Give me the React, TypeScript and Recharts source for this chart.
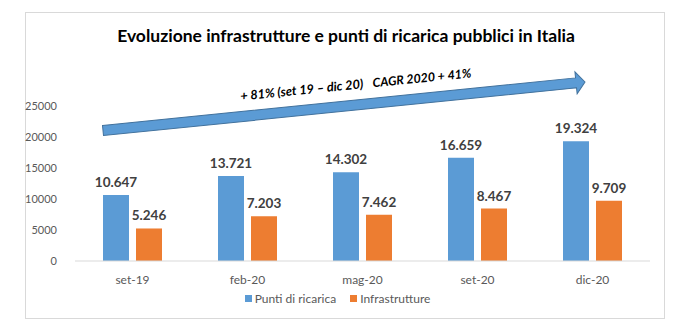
import React from "react";
import { BarChart, Bar, XAxis, YAxis, Legend, LabelList } from "recharts";

const months = ["set-19", "feb-20", "mag-20", "set-20", "dic-20"];
const puntiDiRicarica = [10647, 13721, 14302, 16659, 19324];
const infrastrutture = [5246, 7203, 7462, 8467, 9709];
const yTicks = [0, 5000, 10000, 15000, 20000, 25000];

const data = months.map((m, i) => ({
  month: m,
  punti: puntiDiRicarica[i],
  infra: infrastrutture[i],
}));

const FONT = "Lato, 'Open Sans', sans-serif";
const BLUE = "#5B9BD5";
const ORANGE = "#ED7D31";

// italian thousands separator, also for 4-digit numbers
const fmt = (v: any) => String(v).replace(/\B(?=(\d{3})+(?!\d))/g, ".");

const legendItems = [
  { name: "Punti di ricarica", color: BLUE },
  { name: "Infrastrutture", color: ORANGE },
];

function LegendContent() {
  return (
    <div style={{ display: "flex", justifyContent: "center", gap: 14, fontSize: 12, fontFamily: FONT, color: "#595959" }}>
      {legendItems.map((it) => (
        <span key={it.name} style={{ display: "inline-flex", alignItems: "center" }}>
          <span style={{ width: 7, height: 7, background: it.color, marginRight: 3, display: "inline-block" }} />
          {it.name}
        </span>
      ))}
    </div>
  );
}

function GrowthArrow() {
  const x0 = 103, y0 = 130.5, x1 = 585, y1 = 82;
  const len = Math.hypot(x1 - x0, y1 - y0);
  const ang = (Math.atan2(y1 - y0, x1 - x0) * 180) / Math.PI;
  const pts = [
    [0, -5], [len - 9, -5], [len - 9, -11], [len, 0],
    [len - 9, 11], [len - 9, 5], [0, 5],
  ].map((p) => p.join(",")).join(" ");
  return (
    <svg width={687} height={335} style={{ position: "absolute", left: 0, top: 0, pointerEvents: "none" }}>
      <g transform={`translate(${x0},${y0}) rotate(${ang})`}>
        <polygon points={pts} fill={BLUE} stroke="#41719C" strokeWidth={1} />
        <text x={140} y={-16} fontFamily={FONT} fontSize={12.7} fontStyle="italic" fontWeight="bold" fill="#000">
          + 81% (set 19 – dic 20)
        </text>
        <text x={273} y={-16} fontFamily={FONT} fontSize={12.4} fontStyle="italic" fontWeight="bold" fill="#000">
          CAGR 2020 + 41%
        </text>
      </g>
    </svg>
  );
}

export default function App() {
  return (
    <div style={{ position: "absolute", left: 0, top: 0, width: 687, height: 335, background: "#fff", fontFamily: FONT }}>
      <div style={{ position: "absolute", left: 25, top: 12, width: 640, height: 307, border: "1px solid #d9d9d9", boxSizing: "border-box" }} />
      <div style={{ position: "absolute", left: 0, width: 692, top: 25, textAlign: "center", fontSize: 17.5, fontWeight: "bold", color: "#000" }}>
        Evoluzione infrastrutture e punti di ricarica pubblici in Italia
      </div>
      <div style={{ position: "absolute", left: 0, top: 0 }}>
        <BarChart width={687} height={335} data={data} margin={{ top: 106, right: 37, left: 25, bottom: 29 }} barGap={7} barSize={26}>
          <XAxis dataKey="month" axisLine={{ stroke: "#d9d9d9" }} tickLine={false} height={30}
            tick={{ fontSize: 12, fill: "#595959", fontFamily: FONT }} tickMargin={8} />
          <YAxis domain={[0, 25000]} ticks={yTicks} axisLine={false} tickLine={false} width={50}
            tick={{ fontSize: 11, fill: "#595959", fontFamily: FONT }} tickMargin={12} />
          <Legend verticalAlign="bottom" content={<LegendContent />} />
          <Bar dataKey="punti" name="Punti di ricarica" fill={BLUE} isAnimationActive={false}>
            <LabelList dataKey="punti" position="top" offset={8} formatter={fmt}
              style={{ fontSize: 13.5, fontWeight: "bold", fill: "#404040", fontFamily: FONT }} />
          </Bar>
          <Bar dataKey="infra" name="Infrastrutture" fill={ORANGE} isAnimationActive={false}>
            <LabelList dataKey="infra" position="top" offset={8} formatter={fmt}
              style={{ fontSize: 13.5, fontWeight: "bold", fill: "#404040", fontFamily: FONT }} />
          </Bar>
        </BarChart>
      </div>
      <GrowthArrow />
    </div>
  );
}
